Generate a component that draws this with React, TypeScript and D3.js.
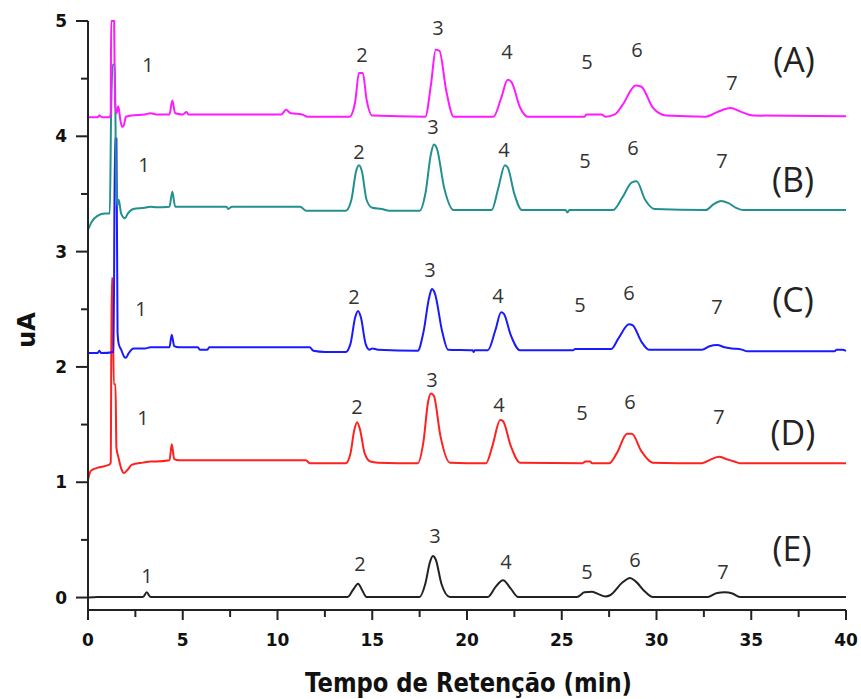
import React from "react";
import * as d3 from "d3";

type P = [number, number];

const seriesA: P[] = [[0,4.165],[0.5,4.165],[0.6,4.18],[0.75,4.165],[1.15,4.165],[1.2,4.2],[1.22,5.0],[1.38,5.0],[1.42,4.3],[1.5,4.2],[1.6,4.26],[1.7,4.15],[1.8,4.08],[1.9,4.1],[2.0,4.17],[2.3,4.18],[3.0,4.19],[3.3,4.2],[3.6,4.19],[4.3,4.19],[4.45,4.31],[4.6,4.2],[5.0,4.19],[5.2,4.21],[5.3,4.19],[10.2,4.19],[10.45,4.23],[10.7,4.2],[11.3,4.19],[11.6,4.17],[13.8,4.17],[14.1,4.3],[14.3,4.55],[14.5,4.55],[14.7,4.32],[15.0,4.18],[17.8,4.17],[18.1,4.45],[18.35,4.75],[18.55,4.74],[18.9,4.4],[19.3,4.17],[21.4,4.17],[21.8,4.33],[22.15,4.49],[22.35,4.47],[22.8,4.25],[23.2,4.17],[26.2,4.17],[26.3,4.19],[27.1,4.19],[27.3,4.17],[27.8,4.19],[28.2,4.27],[28.9,4.44],[29.2,4.43],[29.8,4.25],[30.5,4.18],[32.6,4.17],[33.2,4.21],[33.9,4.245],[34.5,4.21],[35.1,4.18],[40,4.175]];

const seriesB: P[] = [[0,3.19],[0.2,3.26],[0.5,3.31],[0.9,3.33],[1.15,3.33],[1.22,4.2],[1.3,4.62],[1.42,4.62],[1.48,3.6],[1.55,3.4],[1.62,3.45],[1.75,3.33],[1.95,3.29],[2.1,3.33],[2.4,3.37],[3.0,3.38],[3.3,3.39],[3.6,3.385],[4.3,3.39],[4.45,3.52],[4.6,3.39],[5.0,3.39],[7.3,3.39],[7.4,3.37],[7.6,3.39],[11.2,3.39],[11.5,3.355],[13.6,3.355],[13.9,3.45],[14.15,3.7],[14.3,3.75],[14.45,3.7],[14.7,3.45],[15.0,3.38],[15.5,3.37],[15.9,3.355],[17.5,3.355],[17.8,3.5],[18.1,3.85],[18.25,3.93],[18.4,3.9],[18.8,3.55],[19.3,3.36],[21.3,3.36],[21.65,3.55],[22.0,3.75],[22.15,3.73],[22.5,3.5],[22.9,3.36],[25.2,3.36],[25.3,3.34],[25.4,3.36],[27.7,3.36],[28.2,3.47],[28.7,3.6],[28.95,3.61],[29.4,3.45],[29.9,3.37],[32.6,3.36],[33.0,3.41],[33.4,3.44],[33.8,3.42],[34.2,3.38],[34.6,3.36],[40,3.36]];

const seriesC: P[] = [[0,2.12],[0.5,2.12],[0.6,2.14],[0.7,2.12],[1.35,2.13],[1.42,3.98],[1.5,3.98],[1.56,2.3],[1.62,2.2],[1.75,2.15],[1.9,2.09],[2.0,2.08],[2.15,2.12],[2.4,2.16],[3.0,2.16],[3.3,2.17],[3.7,2.17],[4.3,2.17],[4.42,2.28],[4.55,2.18],[4.8,2.17],[5.8,2.17],[5.9,2.15],[6.3,2.15],[6.4,2.17],[11.7,2.17],[11.9,2.14],[12.5,2.13],[13.6,2.13],[13.85,2.2],[14.1,2.43],[14.25,2.485],[14.4,2.43],[14.65,2.2],[14.85,2.15],[15.0,2.16],[15.3,2.15],[17.4,2.14],[17.7,2.3],[18.0,2.6],[18.15,2.675],[18.3,2.64],[18.7,2.3],[19.0,2.15],[20.3,2.145],[20.35,2.13],[20.4,2.145],[21.1,2.145],[21.5,2.32],[21.8,2.475],[21.95,2.46],[22.3,2.28],[22.8,2.145],[25.6,2.145],[25.7,2.155],[27.6,2.155],[28.0,2.25],[28.55,2.37],[28.75,2.36],[29.2,2.22],[29.6,2.15],[32.4,2.15],[32.8,2.18],[33.2,2.19],[33.6,2.17],[34.0,2.16],[34.5,2.15],[34.8,2.135],[39.4,2.135],[39.5,2.15],[39.8,2.15],[40,2.14]];

const seriesD: P[] = [[0,1.02],[0.15,1.1],[0.6,1.13],[1.1,1.15],[1.2,1.17],[1.25,2.77],[1.3,2.77],[1.36,1.85],[1.45,1.85],[1.5,1.3],[1.6,1.22],[1.75,1.12],[1.9,1.08],[2.1,1.11],[2.3,1.15],[2.9,1.17],[3.3,1.18],[3.6,1.18],[4.3,1.19],[4.42,1.33],[4.55,1.2],[4.8,1.19],[11.5,1.19],[11.7,1.165],[13.6,1.165],[13.85,1.25],[14.05,1.45],[14.2,1.52],[14.35,1.46],[14.6,1.25],[14.9,1.18],[15.3,1.17],[17.4,1.165],[17.7,1.35],[17.95,1.7],[18.1,1.77],[18.25,1.75],[18.6,1.4],[19.1,1.17],[21.0,1.165],[21.35,1.32],[21.75,1.54],[21.9,1.53],[22.3,1.32],[22.8,1.17],[26.1,1.165],[26.25,1.18],[26.5,1.18],[26.6,1.165],[27.5,1.165],[27.9,1.25],[28.45,1.42],[28.7,1.42],[29.2,1.27],[29.8,1.17],[32.4,1.165],[32.9,1.2],[33.3,1.22],[33.7,1.2],[34.1,1.18],[34.4,1.165],[40,1.165]];

const seriesE: P[] = [[0,0.0],[0.5,0.005],[2.9,0.005],[3.1,0.045],[3.3,0.005],[13.7,0.005],[14.0,0.07],[14.25,0.12],[14.45,0.07],[14.7,0.005],[17.5,0.005],[17.8,0.12],[18.05,0.31],[18.2,0.36],[18.35,0.33],[18.65,0.12],[19.1,0.005],[21.1,0.005],[21.5,0.09],[21.9,0.15],[22.3,0.08],[22.7,0.005],[25.8,0.005],[26.2,0.045],[26.6,0.05],[27.0,0.025],[27.3,0.01],[27.55,0.02],[28.2,0.13],[28.6,0.17],[28.9,0.14],[29.4,0.05],[29.8,0.005],[32.7,0.005],[33.2,0.04],[33.6,0.045],[34.0,0.035],[34.4,0.005],[40,0.005]];

const seriesNames = ["(A)", "(B)", "(C)", "(D)", "(E)"];
const peakNames = ["1", "2", "3", "4", "5", "6", "7"];

// label anchors (time, uA) for peaks 1..7 of each trace
const peakLabelsA: P[] = [[3.17,4.62],[14.46,4.705],[18.47,4.94],[22.11,4.73],[26.33,4.645],[28.97,4.75],[33.98,4.46]];
const peakLabelsB: P[] = [[2.96,3.75],[14.3,3.865],[18.21,4.08],[21.95,3.88],[26.23,3.79],[28.76,3.9],[33.46,3.79]];
const peakLabelsC: P[] = [[2.8,2.5],[14.04,2.61],[18.05,2.84],[21.64,2.62],[25.96,2.535],[28.55,2.64],[33.19,2.52]];
const peakLabelsD: P[] = [[2.9,1.557],[14.2,1.652],[18.15,1.886],[21.69,1.669],[26.07,1.6],[28.6,1.696],[33.3,1.566]];
const peakLabelsE: P[] = [[3.11,0.186],[14.35,0.29],[18.31,0.533],[22.06,0.308],[26.33,0.221],[28.87,0.325],[33.51,0.221]];
const seriesLabelPos: P[] = [[37.26,4.66],[37.2,3.62],[37.2,2.58],[37.2,1.427],[37.15,0.42]];

const xTicks = [0, 5, 10, 15, 20, 25, 30, 35, 40];
const xMinor = [2.5, 7.5, 12.5, 17.5, 22.5, 27.5, 32.5, 37.5];
const yTicks = [0, 1, 2, 3, 4, 5];
const yMinor = [0.5, 1.5, 2.5, 3.5, 4.5];

const xTitle = "Tempo de Retenção (min)";
const yTitle = "uA";

const colors = ["#ff1aff", "#22908f", "#1a1aff", "#ff2020", "#222222"];

export default function App() {
  const W = 861, H = 699;
  const x = d3.scaleLinear().domain([0, 40]).range([88, 846]);
  const y = d3.scaleLinear().domain([-0.108, 5]).range([610, 21]);
  const line = d3.line<P>().x(d => x(d[0])).y(d => y(d[1])).curve(d3.curveMonotoneX);

  const traces = [seriesE, seriesD, seriesC, seriesB, seriesA];
  const traceColors = [colors[4], colors[3], colors[2], colors[1], colors[0]];
  const labelSets = [peakLabelsA, peakLabelsB, peakLabelsC, peakLabelsD, peakLabelsE];

  const tickFont = "'DejaVu Sans', 'Liberation Sans', sans-serif";
  const labelFont = "'Open Sans', 'Noto Sans', sans-serif";

  return (
    <svg width={W} height={H} style={{ position: "absolute", left: 0, top: 0, background: "#fff" }}>
      <rect x={0} y={0} width={W} height={H} fill="#fff" />
      {traces.map((t, i) => (
        <path key={i} d={line(t) || ""} fill="none" stroke={traceColors[i]} strokeWidth={2} strokeLinejoin="round" />
      ))}
      <g stroke="#222" strokeWidth={2} fill="none">
        <line x1={x(0)} x2={x(0)} y1={y(5)} y2={620} />
        <line x1={x(0)} x2={x(40)} y1={610} y2={610} />
        {yTicks.map(v => <line key={"yt" + v} x1={76} x2={x(0)} y1={y(v)} y2={y(v)} />)}
        {yMinor.map(v => <line key={"ym" + v} x1={81} x2={x(0)} y1={y(v)} y2={y(v)} />)}
        {xTicks.map(v => <line key={"xt" + v} x1={x(v)} x2={x(v)} y1={610} y2={620} />)}
        {xMinor.map(v => <line key={"xm" + v} x1={x(v)} x2={x(v)} y1={610} y2={617} />)}
      </g>
      <g fontFamily={tickFont} fontWeight="bold" fontSize={17} fill="#111">
        {yTicks.map(v => (
          <text key={"yl" + v} x={67} y={y(v)} dy="0.36em" textAnchor="end">{v}</text>
        ))}
        {xTicks.map(v => (
          <text key={"xl" + v} x={x(v)} y={640} dy="0.36em" textAnchor="middle">{v}</text>
        ))}
      </g>
      <text x={305} y={692} fontFamily={tickFont} fontWeight="bold" fontSize={26} fill="#111"
        textLength={327} lengthAdjust="spacingAndGlyphs">{xTitle}</text>
      <text transform="translate(35,330) rotate(-90)" textAnchor="middle" fontFamily={tickFont}
        fontWeight="bold" fontSize={24} fill="#111">{yTitle}</text>
      <g fontFamily={labelFont} fontSize={20} fill="#333" textAnchor="middle">
        {labelSets.map((set, si) => set.map((p, pi) => (
          <text key={si + "-" + pi} x={x(p[0])} y={y(p[1])} dy="0.36em">{peakNames[pi]}</text>
        )))}
      </g>
      <g fontFamily={labelFont} fontSize={34} fill="#222" textAnchor="middle">
        {seriesLabelPos.map((p, i) => (
          <text key={"s" + i} x={x(p[0])} y={y(p[1])} dy="0.36em">{seriesNames[i]}</text>
        ))}
      </g>
    </svg>
  );
}
